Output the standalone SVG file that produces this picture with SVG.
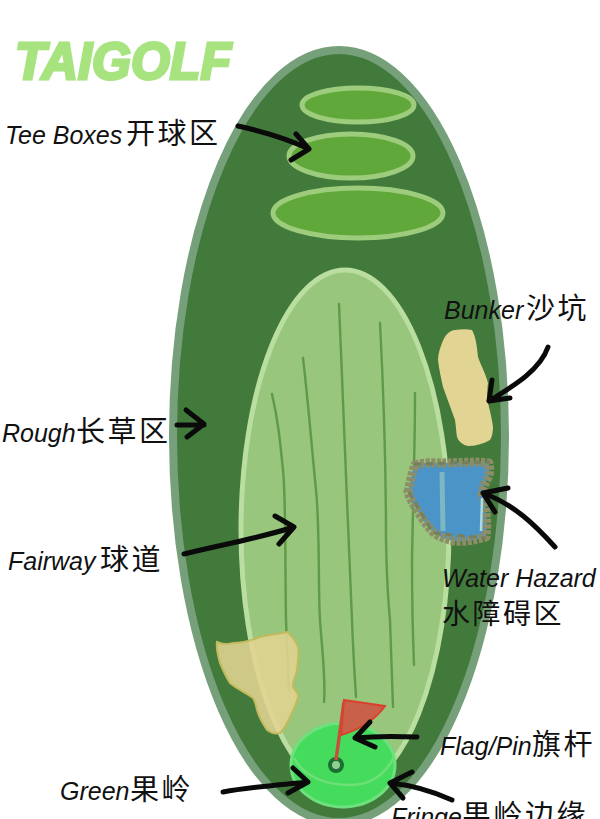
<svg xmlns="http://www.w3.org/2000/svg" width="600" height="819" viewBox="0 0 600 819">
<style>
.lbl{font-family:"Liberation Sans","Noto Sans CJK SC",sans-serif;font-style:italic;font-size:25px;fill:#111}
.cjk{font-family:"Noto Sans CJK SC",sans-serif;font-style:normal;font-size:29px;letter-spacing:2.5px}
.arrow{fill:none;stroke:#0a0a0a;stroke-width:5;stroke-linecap:round;stroke-linejoin:round}
.tee{fill:#60a83a;stroke:#9ccc7c;stroke-width:5}
.mow{fill:none;stroke:#5f9a48;stroke-width:2.4;stroke-linecap:round}
.sand{fill:#e2d492}
</style>
<rect width="600" height="819" fill="#fff"/>
<!-- course title -->
<g id="logo"><text x="15" y="79" font-family="'Liberation Sans',sans-serif" font-weight="700" font-style="italic" font-size="52" fill="#a7e37f" stroke="#a7e37f" stroke-width="3" textLength="216" lengthAdjust="spacingAndGlyphs">TAIGOLF</text></g>
<g id="rough"><ellipse cx="339" cy="436" rx="166" ry="386" fill="#427a3c" stroke="#76a07a" stroke-width="8"/></g>
<g id="tee-boxes">
<ellipse class="tee" cx="358" cy="105" rx="56" ry="17"/>
<ellipse class="tee" cx="351" cy="156" rx="62" ry="22"/>
<ellipse class="tee" cx="358" cy="213" rx="85" ry="25"/>
</g>
<g id="fairway">
<ellipse cx="345" cy="530" rx="104" ry="260" fill="#97c67c" stroke="#b9dea0" stroke-width="5"/>
<path class="mow" d="M272 394C278 420 280 440 283 470C286 500 285 560 286 620C287 650 288 670 289 690"/>
<path class="mow" d="M303 358C308 400 312 450 316 490C320 530 318 590 320 620C322 650 326 680 324 702"/>
<path class="mow" d="M339 304C342 370 344 440 347 500C349 550 351 590 352 620C353 650 355 680 356 697"/>
<path class="mow" d="M380 323C384 400 386 470 386 540C387 590 389 610 390 620C391 650 392 680 393 707"/>
<path class="mow" d="M415 393C415 450 413 500 412 560C412 600 413 640 414 665"/>
</g>
<g id="bunker-left"><path class="sand" fill-opacity=".88" d="M217 642C224 645 228 644 233 643C243 643 252 640 260 637C270 634 280 634 287 632C292 636 296 642 298 647C299 655 298 663 297 670C296 677 292 682 293 687C295 691 299 693 298 697C296 705 293 711 290 717C287 724 284 729 280 733C276 734 271 733 267 730C263 724 259 717 257 710C256 705 255 701 253 698C245 692 237 689 230 683C226 677 223 670 220 663C218 656 216 649 217 642Z" stroke="#c2bb5e" stroke-width="2"/></g>
<g id="bunker-right"><path class="sand" d="M442 343C445 335 450 330 455 330C461 329 467 329 472 330C476 337 477 347 478 357C481 366 486 374 488 383C487 390 487 396 488 403C490 411 492 419 493 427C493 432 492 437 490 440C483 444 475 446 468 446C463 445 459 442 457 437C456 431 456 426 455 420C451 409 447 398 443 387C441 378 439 369 438 360C438 354 440 348 442 343Z"/></g>
<g id="water-hazard">
<path d="M415 465C424 462 434 463 443 463C458 463 476 461 489 463C490 468 490 473 488 478C485 483 483 488 482 493C484 500 486 507 486 513C487 521 487 530 486 537C475 540 464 542 453 541C446 539 439 537 433 532C427 526 422 518 417 510C413 504 410 498 408 492C410 483 412 473 415 465Z" fill="#4a94c8" stroke="#8d8d68" stroke-width="9" stroke-dasharray="4 1.5" stroke-linejoin="round"/>
<path d="M414 464L490 462M409 492L433 533L486 538" fill="none" stroke="#77805a" stroke-width="3" stroke-dasharray="7 5"/>
<path d="M442 472L443 531" stroke="#7eb7c4" stroke-width="5" fill="none"/>
<path d="M482 498L481 531" stroke="#a9dbe6" stroke-width="2.5" fill="none"/>
</g>
<g id="green">
<ellipse cx="343" cy="765" rx="52" ry="42" fill="#45dc5d" stroke="#6fe07e" stroke-width="3"/>
<path d="M294 758C305 779 330 785 350 785C370 785 385 775 394 757" fill="none" stroke="#6fdf78" stroke-width="2.5"/>
<circle cx="336" cy="765" r="6" fill="#8ed08f" stroke="#1c6e34" stroke-width="4"/>
</g>
<g id="flag">
<path d="M336 760L344 702" stroke="#c6503a" stroke-width="3.5" fill="none"/>
<path d="M344 700L385 706C375 720 358 730 341 735Z" fill="#c9604a" stroke="#dc402c" stroke-width="2"/>
</g>
<g id="connectors">
<path class="arrow" d="M238 126C265 132 290 140 309 149M296 134L309 149L291 160"/>
<path class="arrow" d="M548 347C540 370 515 385 489 401M492 380L489 401L510 398"/>
<path class="arrow" d="M177 425H204M186 410L204 424L187 437"/>
<path class="arrow" d="M184 554C220 545 260 538 294 527M275 516L294 527L279 544"/>
<path class="arrow" d="M555 547C535 525 515 505 483 493M508 488L483 493L495 512"/>
<path class="arrow" d="M417 737C395 736 375 736 355 738M370 722L355 738L375 747"/>
<path class="arrow" d="M223 792C250 787 280 785 308 782M293 768L308 782L288 793"/>
<path class="arrow" d="M452 800C430 790 410 785 390 783M412 772L390 783L403 798"/>
</g>
<g id="labels">
<text class="lbl" x="5" y="144">Tee Boxes<tspan class="cjk" x="126">开球区</tspan></text>
<text class="lbl" x="444" y="319">Bunker<tspan class="cjk" x="526">沙坑</tspan></text>
<text class="lbl" x="2" y="442">Rough<tspan class="cjk" x="76">长草区</tspan></text>
<text class="lbl" x="8" y="570">Fairway<tspan class="cjk" x="100">球道</tspan></text>
<text class="lbl" x="442" y="587" font-size="24">Water Hazard</text>
<text class="lbl" x="442" y="624"><tspan class="cjk" style="font-size:28px">水障碍区</tspan></text>
<text class="lbl" x="440" y="755">Flag/Pin<tspan class="cjk" x="532">旗杆</tspan></text>
<text class="lbl" x="60" y="800">Green<tspan class="cjk" x="130">果岭</tspan></text>
<text class="lbl" x="391" y="826">Fringe<tspan class="cjk" x="462">果岭边缘</tspan></text>
</g>
</svg>
